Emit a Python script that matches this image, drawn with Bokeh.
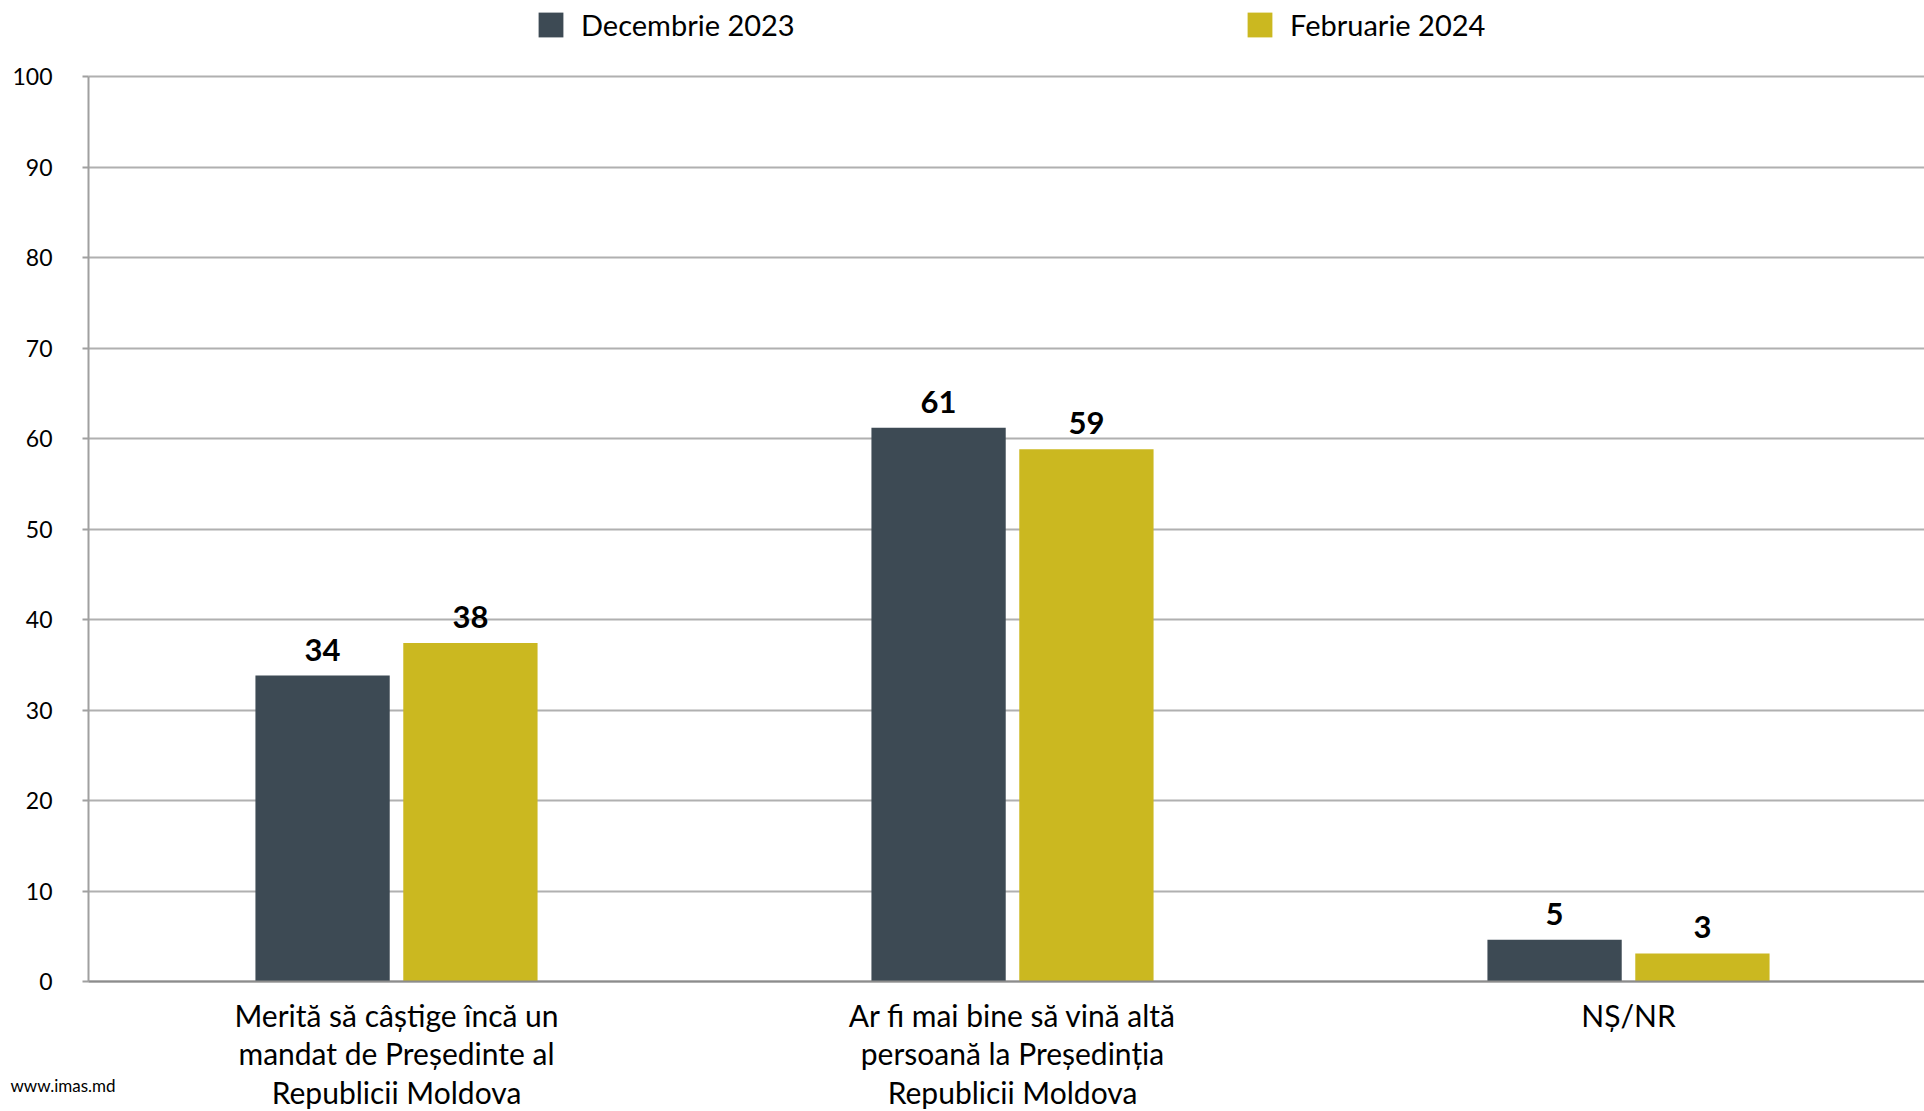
from bokeh.plotting import figure
from bokeh.models import (ColumnDataSource, Range1d, FixedTicker, LinearAxis,
                          Legend, LegendItem, Label, Grid)
from bokeh.core.properties import value
from bokeh.embed import file_html
from bokeh.resources import INLINE

# ---- data ----
categories = [
    "Merită să câștige încă un\nmandat de Președinte al\nRepublicii Moldova",
    "Ar fi mai bine să vină altă\npersoană la Președinția\nRepublicii Moldova",
    "NȘ/NR",
]
series_names = ["Decembrie 2023", "Februarie 2024"]
dec_2023 = [33.8, 61.2, 4.6]
feb_2024 = [37.4, 58.8, 3.1]
dec_labels = ["34", "61", "5"]
feb_labels = ["38", "59", "3"]
y_ticks = [0, 10, 20, 30, 40, 50, 60, 70, 80, 90, 100]
source_note = "www.imas.md"

DARK = "#3D4A54"
GOLD = "#CBB820"
FONT = "Lato"

W, H = 1924, 1111
ax_left, ax_bottom, ax_top = 88, 981, 76      # pixel placement of the plotting area
px_per_cat = 616.0
px_per_unit = (ax_bottom - ax_top) / 100.0

x_start = -ax_left / px_per_cat
x_end = (W - ax_left) / px_per_cat
y_start = -(H - ax_bottom) / px_per_unit
y_end = 100 + ax_top / px_per_unit

centers = [i + 0.5 for i in range(len(categories))]
offset = 0.12
bar_w = 0.218

src_dec = ColumnDataSource(dict(x=[c - offset for c in centers], top=dec_2023, lab=dec_labels))
src_feb = ColumnDataSource(dict(x=[c + offset for c in centers], top=feb_2024, lab=feb_labels))

p = figure(width=W, height=H, output_backend="svg", toolbar_location=None,
           x_range=Range1d(x_start, x_end), y_range=Range1d(y_start, y_end),
           x_axis_type=None, y_axis_type=None,
           min_border_left=0, min_border_right=0, min_border_top=0, min_border_bottom=0)
p.outline_line_color = None
p.background_fill_color = "white"
p.border_fill_color = "white"
p.grid.visible = False

grid = Grid(dimension=1, ticker=FixedTicker(ticks=y_ticks), bounds=(0, 100),
            cross_bounds=(0, x_end), grid_line_color="#B0B0B0", grid_line_width=2)
p.add_layout(grid, "center")

r1 = p.vbar(x="x", top="top", width=bar_w, source=src_dec, color=DARK, line_color=None)
r2 = p.vbar(x="x", top="top", width=bar_w, source=src_feb, color=GOLD, line_color=None)

for s in (src_dec, src_feb):
    p.text(x="x", y="top", text="lab", source=s, text_align="center",
           text_baseline="alphabetic", y_offset=-26,
           text_font=value(FONT), text_font_style="bold",
           text_font_size="31px", text_color="black")

# y axis
yaxis = LinearAxis(ticker=FixedTicker(ticks=y_ticks), fixed_location=0, bounds=(0, 100))
yaxis.axis_line_color = "#A0A0A0"
yaxis.axis_line_width = 2
yaxis.major_tick_line_color = "#A0A0A0"
yaxis.major_tick_line_width = 2
yaxis.major_tick_out = 6
yaxis.major_tick_in = 0
yaxis.minor_tick_line_color = None
yaxis.major_label_standoff = 30
yaxis.major_label_text_font = FONT
yaxis.major_label_text_font_size = "23px"
yaxis.major_label_text_color = "black"
p.add_layout(yaxis, "left")

# x axis
xaxis = LinearAxis(ticker=FixedTicker(ticks=centers), fixed_location=0, bounds=(0, x_end))
xaxis.major_label_overrides = {c: lab for c, lab in zip(centers, categories)}
xaxis.axis_line_color = "#8C8C8C"
xaxis.axis_line_width = 2
xaxis.major_tick_line_color = None
xaxis.minor_tick_line_color = None
xaxis.major_label_standoff = 9
xaxis.major_label_text_font = FONT
xaxis.major_label_text_font_size = "30px"
xaxis.major_label_text_color = "black"
xaxis.major_label_text_line_height = 1.08
p.add_layout(xaxis, "below")

# legends (positions in screen px from the plotting frame's bottom-left)
for name, rend, loc in ((series_names[0], r1, (535, H - 42)), (series_names[1], r2, (1244, H - 42))):
    lg = Legend(items=[LegendItem(label=name, renderers=[rend])], location=loc,
                orientation="horizontal", border_line_color=None,
                background_fill_alpha=0, padding=0, margin=0,
                glyph_width=31, glyph_height=31, label_height=31,
                label_standoff=15, label_text_font=FONT,
                label_text_font_size="29px", label_text_color="black")
    p.add_layout(lg, "center")

p.add_layout(Label(x=-78 / px_per_cat, y=-104 / px_per_unit, x_units="data", y_units="data",
                   text=source_note, text_font=FONT, text_font_size="17px",
                   text_baseline="middle", text_color="black"))

open("out.html", "w").write(file_html(p, INLINE))
